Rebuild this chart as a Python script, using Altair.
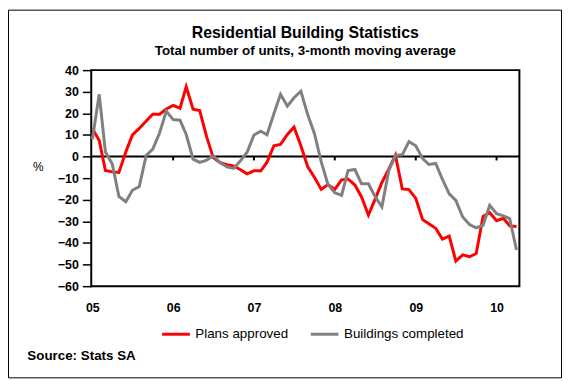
import altair as alt
import pandas as pd

# ---- data (monthly, Jan 2005 .. Apr 2010) ----
months = [f"{y}-{m:02d}-01" for y in range(2005, 2011) for m in range(1, 13)][:64]

plans_approved = [
    13.0, 7.4, -6.5, -7.1, -7.4, 2.1, 10.0, 13.0, 16.4, 19.6, 19.6, 22.0,
    23.7, 22.4, 32.3, 21.9, 21.3, 9.2, -0.5, -2.8, -3.8, -4.3, -6.1, -8.0,
    -6.6, -6.6, -2.6, 5.0, 5.6, 10.2, 13.6, 5.0, -4.8, -9.6, -15.2, -13.0,
    -15.2, -10.8, -10.4, -13.2, -18.7, -27.1, -19.8, -12.0, -5.8, 0.6, -15.0, -15.3,
    -19.4, -29.2, -31.1, -33.2, -38.2, -36.8, -48.4, -45.5, -46.4, -44.9, -27.7, -26.0,
    -29.7, -28.6, -32.1, -32.4,
]
buildings_completed = [
    8.0, 28.8, 2.1, -3.5, -18.5, -20.9, -15.6, -13.9, 0.5, 3.4, 11.0, 21.0,
    17.1, 16.8, 10.2, -1.2, -2.7, -1.7, 0.4, -2.8, -4.8, -5.5, -2.0, 2.0,
    10.0, 11.7, 10.1, 19.8, 28.8, 23.3, 27.2, 30.2, 19.3, 10.7, -2.5, -12.8,
    -16.8, -17.9, -6.5, -6.0, -12.6, -12.6, -18.5, -23.3, -6.5, 0.5, 0.8, 6.9,
    5.0, -1.0, -3.7, -3.2, -10.5, -17.3, -20.3, -28.0, -31.5, -33.0, -31.8, -22.6,
    -26.5, -27.5, -28.7, -43.2,
]
series_names = ["Plans approved", "Buildings completed"]
series_colors = ["#FF0000", "#808080"]
y_ticks = [-60, -50, -40, -30, -20, -10, 0, 10, 20, 30, 40]
year_ticks = [2005, 2006, 2007, 2008, 2009, 2010]

df = pd.DataFrame({
    "date": months * 2,
    "value": plans_approved + buildings_completed,
    "series": [series_names[0]] * len(months) + [series_names[1]] * len(months),
})
tick_df = pd.DataFrame({"date": [f"{y}-01-01" for y in year_ticks[1:]]})
one_row = pd.DataFrame({"k": [0]})

W, H = 432, 218
PAD = {"left": 84, "top": 61, "right": 43, "bottom": 93}

x_scale = alt.Scale(domain=[alt.DateTime(year=2004, month=12, date=27),
                            alt.DateTime(year=2010, month=4, date=14)])
y_scale = alt.Scale(domain=[-60, 40])

x_axis = alt.Axis(
    values=[alt.DateTime(year=y, month=1, date=1) for y in year_ticks],
    format="%y", ticks=False, domain=False, grid=False,
    labelFontSize=12.5, labelFontWeight="bold", labelColor="black",
    labelBaseline="middle", labelPadding=22,
    title="Source: Stats SA", titleX=-65, titleY=70, titleAlign="left",
    titleBaseline="middle", titleFontSize=13.5, titleFontWeight="bold", titleColor="black",
)
y_axis = alt.Axis(
    values=y_ticks, domain=False, grid=False, labelOverlap=False,
    tickSize=9, tickColor="black", tickWidth=1.5,
    labelFontSize=12.5, labelFontWeight="bold", labelColor="black", labelPadding=4,
    title="%", titleAngle=0, titleX=-54, titleY=97, titleAlign="center",
    titleBaseline="middle", titleFontSize=12, titleFontWeight="normal", titleColor="black",
)
legend = alt.Legend(
    title=None, orient="none", legendX=70, legendY=251, direction="horizontal",
    symbolType="stroke", symbolSize=784, symbolStrokeWidth=3,
    labelFontSize=13.5, labelColor="black", labelOffset=4, columnPadding=16,
)
color = alt.Color("series:N", scale=alt.Scale(domain=series_names, range=series_colors),
                  legend=legend)

border = alt.Chart(one_row).mark_rect(fillOpacity=0, stroke="black", strokeWidth=1).encode(
    x=alt.value(-PAD["left"] + 0.5), x2=alt.value(W + PAD["right"] - 0.5),
    y=alt.value(-PAD["top"] + 0.5), y2=alt.value(H + PAD["bottom"] - 0.5),
)
zero = alt.Chart(one_row).mark_rule(color="black", strokeWidth=2).encode(
    y=alt.datum(0, scale=y_scale, axis=y_axis)
)
ticks = alt.Chart(tick_df).mark_rule(color="black", strokeWidth=2).encode(
    x=alt.X("date:T", scale=x_scale, axis=x_axis),
    y=alt.datum(0, scale=y_scale, axis=y_axis), y2=alt.datum(-1.8),
)

def line(name):
    return alt.Chart(df).transform_filter(alt.datum.series == name).mark_line(
        strokeWidth=3, strokeJoin="miter"
    ).encode(
        x=alt.X("date:T", scale=x_scale, axis=x_axis),
        y=alt.Y("value:Q", scale=y_scale, axis=y_axis),
        color=color,
    )

chart = alt.layer(border, zero, ticks, line(series_names[0]), line(series_names[1])).properties(
    width=W, height=H,
    autosize=alt.AutoSizeParams(type="none"),
    padding=PAD,
    title=alt.TitleParams(
        text="Residential Building Statistics",
        subtitle="Total number of units, 3-month moving average",
        fontSize=16, fontWeight="bold", color="black",
        subtitleFontSize=13.5, subtitleFontWeight="bold", subtitleColor="black",
        subtitlePadding=3, anchor="middle", offset=-48, frame="group",
    ),
).configure(font="Liberation Sans").configure_view(stroke="black", strokeWidth=2)

chart.save("out.html", embed_options={"renderer": "svg", "actions": False})
